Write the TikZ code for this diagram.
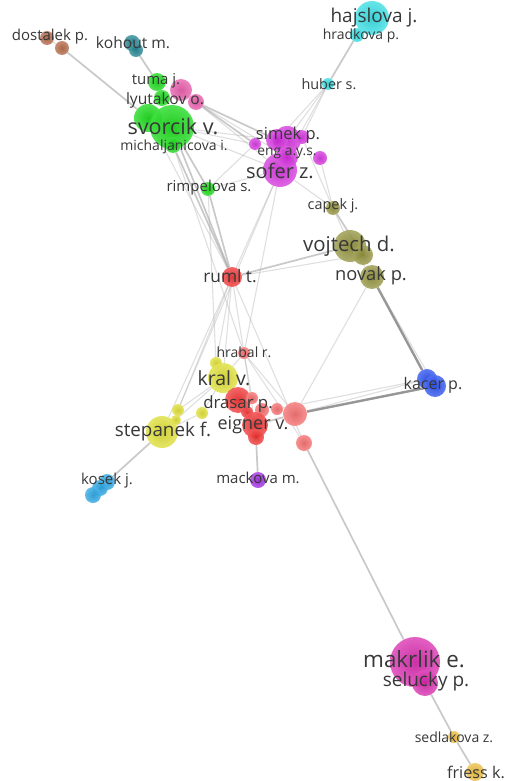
\documentclass[tikz,border=0pt]{standalone}
\usepackage{fontspec}
\setmainfont{Open Sans}
\pgfdeclarelayer{sheet}
\pgfdeclarelayer{edges}
\pgfsetlayers{sheet,edges,main}
\definecolor{cBrown}{RGB}{175,95,60}
\definecolor{cTeal}{RGB}{20,125,140}
\definecolor{cGreen}{RGB}{10,215,10}
\definecolor{cPink}{RGB}{230,80,165}
\definecolor{cViolet}{RGB}{210,40,220}
\definecolor{cCyan}{RGB}{40,220,225}
\definecolor{cOlive}{RGB}{140,140,50}
\definecolor{cRed}{RGB}{240,40,40}
\definecolor{cSalmon}{RGB}{245,100,100}
\definecolor{cYellow}{RGB}{220,220,40}
\definecolor{cSky}{RGB}{30,160,225}
\definecolor{cPurple}{RGB}{155,30,225}
\definecolor{cBlue}{RGB}{30,70,240}
\definecolor{cMagenta}{RGB}{215,30,170}
\definecolor{cGold}{RGB}{235,185,50}
\tikzset{
 bub/.style 2 args={circle,inner sep=0pt,minimum size=#2*2pt,shade,inner color=#1!92!black,outer color=#1!78!white,fill opacity=.9},
 lab/.style={inner sep=0pt,text=black!78,font=\fontsize{#1}{#1}\selectfont},
 edgeThin/.style={draw=black!35,line width=1.1pt,opacity=.35},
 edgeMid/.style={draw=black!35,line width=1.7pt,opacity=.6},
 edgeBold/.style={draw=black!55,line width=2.4pt,opacity=.75},
}
\begin{document}
\begin{tikzpicture}[x=1pt,y=-1pt]
\useasboundingbox (0,0) rectangle (510,781);
\begin{pgfonlayer}{sheet}
\fill[white] (0,0) rectangle (510,781);
\end{pgfonlayer}
% bubbles
\node[bub={cBrown}{7}] (dos1) at (47,38) {};
\node[bub={cBrown}{7}] (dos2) at (62,48) {};
\node[bub={cTeal}{8}] (koh1) at (132,43) {};
\node[bub={cTeal}{7}] (koh2) at (136,50) {};
\node[bub={cGreen}{9}] (tuma) at (157,82) {};
\node[bub={cGreen}{8}] (gr2) at (162,98) {};
\node[bub={cPink}{11}] (pk1) at (181,90) {};
\node[bub={cPink}{8}] (lyu) at (196,102) {};
\node[bub={cGreen}{14}] (sv1) at (148,118) {};
\node[bub={cGreen}{22}] (sv2) at (172,127) {};
\node[bub={cGreen}{8}] (mich) at (173,145) {};
\node[bub={cGreen}{7}] (rimp) at (208,189) {};
\node[bub={cViolet}{17}] (sofer) at (280,170) {};
\node[bub={cViolet}{14}] (sim1) at (287,140) {};
\node[bub={cViolet}{11}] (sim2) at (277,140) {};
\node[bub={cViolet}{7}] (sim3) at (302,137) {};
\node[bub={cViolet}{6}] (vio4) at (255,144) {};
\node[bub={cViolet}{7}] (vio5) at (320,158) {};
\node[bub={cViolet}{11}] (eng) at (287,157) {};
\node[bub={cCyan}{17}] (haj) at (372,18) {};
\node[bub={cCyan}{7}] (hrad) at (357,35) {};
\node[bub={cCyan}{6}] (hub) at (328,84) {};
\node[bub={cOlive}{7}] (cap) at (333,208) {};
\node[bub={cOlive}{16}] (voj1) at (350,246) {};
\node[bub={cOlive}{10}] (voj2) at (363,255) {};
\node[bub={cOlive}{12}] (nov) at (372,277) {};
\node[bub={cRed}{10}] (ruml) at (232,277) {};
\node[bub={cSalmon}{6}] (hrab) at (244,353) {};
\node[bub={cYellow}{6}] (ye1) at (216,363) {};
\node[bub={cYellow}{15}] (kral) at (223,378) {};
\node[bub={cYellow}{6}] (ye2) at (178,410) {};
\node[bub={cYellow}{6}] (ye3) at (202,413) {};
\node[bub={cYellow}{5}] (ye4) at (176,420) {};
\node[bub={cYellow}{16}] (step) at (162,432) {};
\node[bub={cSky}{8}] (kos1) at (107,482) {};
\node[bub={cSky}{8}] (kos2) at (100,488) {};
\node[bub={cSky}{8}] (kos3) at (93,495) {};
\node[bub={cRed}{13}] (dra1) at (238,400) {};
\node[bub={cSalmon}{6}] (dra2) at (252,398) {};
\node[bub={cSalmon}{6}] (dra3) at (277,409) {};
\node[bub={cSalmon}{7}] (dra4) at (262,410) {};
\node[bub={cRed}{6}] (dra5) at (247,412) {};
\node[bub={cRed}{13}] (eig) at (255,425) {};
\node[bub={cRed}{8}] (eig2) at (256,437) {};
\node[bub={cSalmon}{12}] (sal1) at (295,414) {};
\node[bub={cSalmon}{8}] (sal2) at (304,443) {};
\node[bub={cPurple}{8}] (mack) at (258,480) {};
\node[bub={cBlue}{10}] (kac1) at (427,379) {};
\node[bub={cBlue}{11}] (kac2) at (435,386) {};
\node[bub={cMagenta}{25}] (mak) at (415,662) {};
\node[bub={cMagenta}{13}] (sel) at (425,683) {};
\node[bub={cGold}{6}] (sed) at (454,737) {};
\node[bub={cGold}{9}] (fri) at (475,772) {};
% labels
\node[lab=15] (tdos) at (50,37) {dostalek p.};
\node[lab=15.6] (tkoh) at (133,43) {kohout m.};
\node[lab=15] (ttum) at (156,81) {tuma j.};
\node[lab=15.6] (tlyu) at (165,100) {lyutakov o.};
\node[lab=21.6] (tsv) at (173,126) {svorcik v.};
\node[lab=14] (tmi) at (174,147) {michaljanicova i.};
\node[lab=15] (tri) at (209,188) {rimpelova s.};
\node[lab=16.5] (tsi) at (288,135) {simek p.};
\node[lab=13.8] (ten) at (287,153) {eng a.y.s.};
\node[lab=20] (tso) at (280,171) {sofer z.};
\node[lab=19] (tha) at (374,18) {hajslova j.};
\node[lab=14] (thr) at (361,36) {hradkova p.};
\node[lab=14.4] (thu) at (329,84) {huber s.};
\node[lab=14.4] (tca) at (333,206) {capek j.};
\node[lab=20.4] (tvo) at (349,246) {vojtech d.};
\node[lab=18.3] (tno) at (371,276) {novak p.};
\node[lab=17.3] (tru) at (230,276) {ruml t.};
\node[lab=14] (thb) at (244,352) {hrabal r.};
\node[lab=19.5] (tkr) at (224,378) {kral v.};
\node[lab=16.8] (tdr) at (238,404) {drasar p.};
\node[lab=18] (tei) at (253,425) {eigner v.};
\node[lab=18.8] (tst) at (163,432) {stepanek f.};
\node[lab=15] (tko) at (107,481) {kosek j.};
\node[lab=15] (tma) at (258,478) {mackova m.};
\node[lab=16] (tka) at (433,385) {kacer p.};
\node[lab=22.4] (tmk) at (414,659) {makrlik e.};
\node[lab=19] (tse) at (426,682) {selucky p.};
\node[lab=14] (tsd) at (454,737) {sedlakova z.};
\node[lab=16.2] (tfr) at (476,772) {friess k.};
% connectors
\begin{pgfonlayer}{edges}
\draw[edgeMid] (dos2) -- (sv1);
\draw[edgeThin] (dos1) -- (dos2);
\draw[edgeMid] (koh2) -- (tuma);
\draw[edgeThin] (tuma) -- (gr2);
\draw[edgeThin] (gr2) -- (sv2);
\draw[edgeMid] (hrad) -- (hub);
\draw[edgeMid] (haj) -- (hrad);
\draw[edgeThin] (hub) -- (sim1);
\draw[edgeThin] (hub) -- (sim2);
\draw[edgeThin] (hub) -- (sim3);
\draw[edgeThin] (hub) -- (eng);
\draw[edgeMid] (lyu) -- (sim2);
\draw[edgeMid] (lyu) -- (vio4);
\draw[edgeThin] (lyu) -- (sofer);
\draw[edgeThin] (lyu) -- (eng);
\draw[edgeThin] (sv2) -- (vio4);
\draw[edgeThin] (sv2) -- (sim2);
\draw[edgeThin] (sv2) -- (sofer);
\draw[edgeThin] (rimp) -- (vio4);
\draw[edgeThin] (rimp) -- (sofer);
\draw[edgeMid] (sv2) -- (rimp);
\draw[edgeMid] (rimp) -- (ruml);
\draw[edgeMid] (sv2) -- (ruml);
\draw[edgeMid] (mich) -- (ruml);
\draw[edgeThin] (sv1) -- (ruml);
\draw[edgeThin] (mich) -- (hrab);
\draw[edgeThin] (rimp) -- (ye1);
\draw[edgeThin] (sofer) -- (ruml);
\draw[edgeThin] (sofer) -- (hrab);
\draw[edgeThin] (sofer) -- (ye2);
\draw[edgeThin] (sofer) -- (cap);
\draw[edgeThin] (vio5) -- (cap);
\draw[edgeThin] (sim3) -- (cap);
\draw[edgeThin] (cap) -- (voj1);
\draw[edgeMid] (cap) -- (voj2);
\draw[edgeThin] (voj1) -- (nov);
\draw[edgeMid] (ruml) -- (voj1);
\draw[edgeThin] (ruml) -- (voj2);
\draw[edgeBold] (nov) -- (kac1);
\draw[edgeThin] (nov) -- (kac2);
\draw[edgeThin] (nov) -- (sal1);
\draw[edgeBold] (sal1) -- (kac2);
\draw[edgeThin] (sal1) -- (kac1);
\draw[edgeThin] (dra3) -- (kac1);
\draw[edgeThin] (ruml) -- (ye1);
\draw[edgeThin] (ruml) -- (hrab);
\draw[edgeThin] (ruml) -- (ye2);
\draw[edgeThin] (ruml) -- (kral);
\draw[edgeThin] (ruml) -- (sal2);
\draw[edgeThin] (ruml) -- (step);
\draw[edgeThin] (hrab) -- (kral);
\draw[edgeThin] (hrab) -- (dra2);
\draw[edgeThin] (hrab) -- (sal1);
\draw[edgeThin] (hrab) -- (sal2);
\draw[edgeThin] (hrab) -- (eig);
\draw[edgeThin] (kral) -- (ye2);
\draw[edgeThin] (kral) -- (ye3);
\draw[edgeThin] (kral) -- (step);
\draw[edgeThin] (ye3) -- (step);
\draw[edgeMid] (eig) -- (sal1);
\draw[edgeMid] (step) -- (kos1);
\draw[edgeThin] (kos1) -- (kos3);
\draw[edgeMid] (eig2) -- (mack);
\draw[edgeMid] (sal2) -- (mak);
\draw[edgeMid] (mak) -- (sel);
\draw[edgeMid] (sel) -- (sed);
\draw[edgeMid] (sed) -- (fri);
\end{pgfonlayer}
\end{tikzpicture}
\end{document}
